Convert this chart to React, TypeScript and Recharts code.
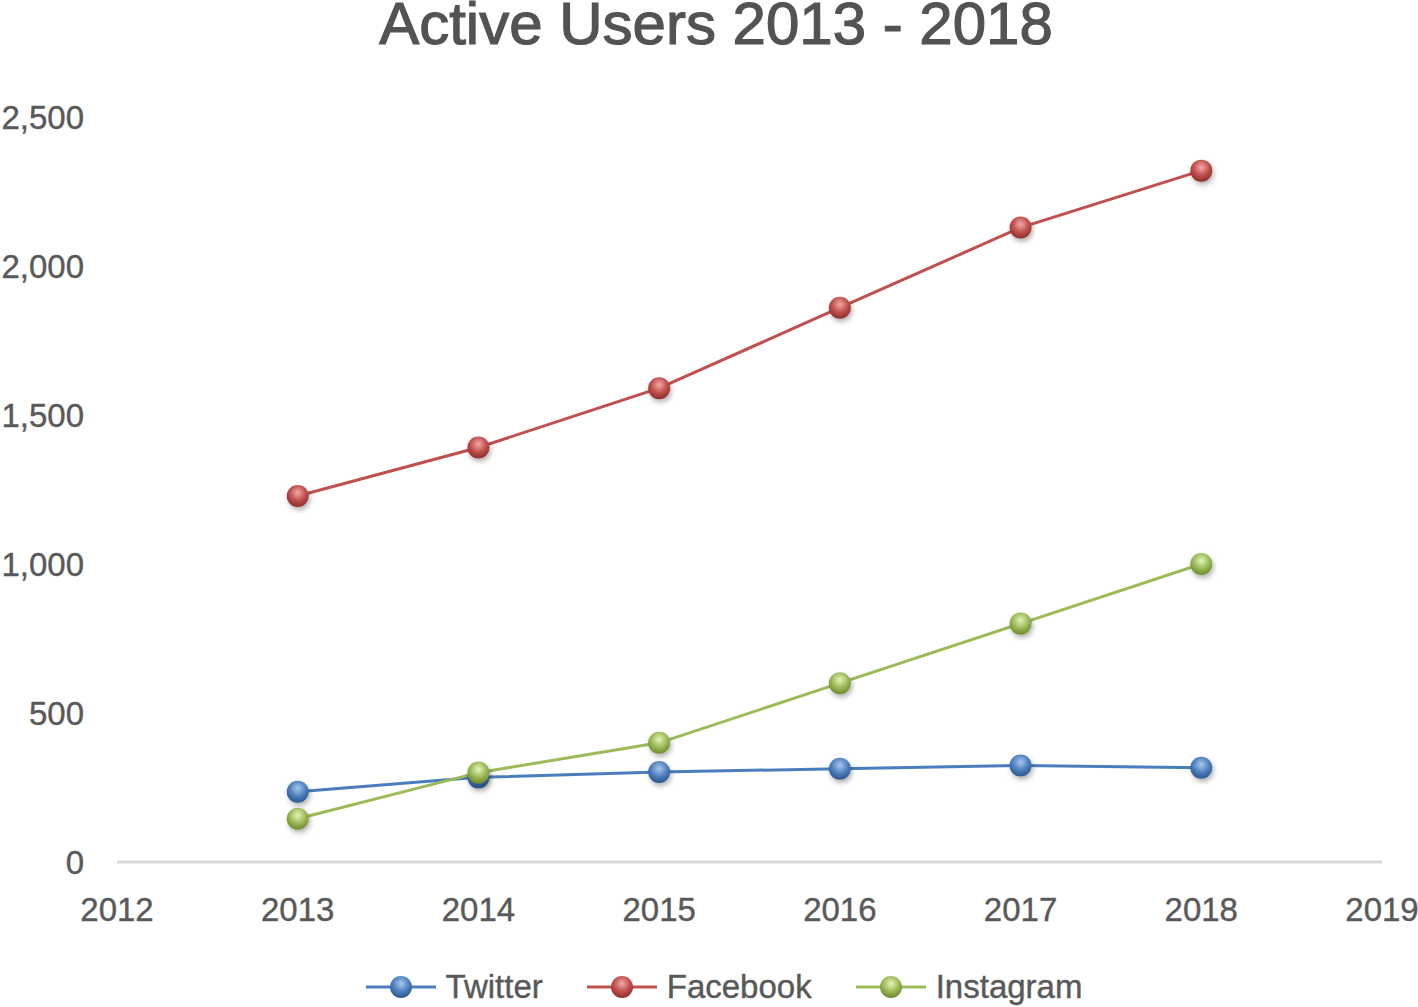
import React from 'react';
import { LineChart, Line, XAxis, YAxis, Legend } from 'recharts';

const years = [2013, 2014, 2015, 2016, 2017, 2018];
const twitter = [236, 284, 302, 313, 324, 316];
const facebook = [1228, 1391, 1590, 1860, 2129, 2320];
const instagram = [145, 300, 400, 600, 800, 1000];

const xTicks = [2012, 2013, 2014, 2015, 2016, 2017, 2018, 2019];
const yTicks = [0, 500, 1000, 1500, 2000, 2500];

const data = years.map((year, i) => ({
  year,
  Twitter: twitter[i],
  Facebook: facebook[i],
  Instagram: instagram[i]
}));

const series = [
  { key: 'Twitter', line: '#4a7dbd', light: '#a9c8f0', base: '#4f81bd', dark: '#2c5690' },
  { key: 'Facebook', line: '#c0504d', light: '#f2aaa8', base: '#c0504d', dark: '#8c2d2a' },
  { key: 'Instagram', line: '#9bbb59', light: '#e3f5b8', base: '#9bbb59', dark: '#6a8a2c' }
];

const font = '"Liberation Sans", Arial, sans-serif';
const textColor = '#595959';

const makeDot = (key: string, r: number) => (props: any) => {
  const { cx, cy, index } = props;
  if (cx == null || cy == null) return <g key={`${key}-${index}`} />;
  return (
    <circle
      key={`${key}-${index}`}
      cx={cx}
      cy={cy}
      r={r}
      fill={`url(#ball-${key})`}
      filter="url(#dotShadow)"
    />
  );
};

const LegendBall = ({ s }: { s: (typeof series)[number] }) => (
  <svg width={70} height={30} style={{ display: 'block' }}>
    <line x1={0} y1={15} x2={70} y2={15} stroke={s.line} strokeWidth={3} />
    <circle cx={35} cy={15} r={11} fill={`url(#ball-${s.key})`} />
  </svg>
);

const renderLegend = () => (
  <div
    style={{
      display: 'flex',
      justifyContent: 'center',
      alignItems: 'center',
      height: 40,
      fontFamily: font,
      fontSize: 33,
      color: textColor,
      paddingLeft: 66
    }}
  >
    {series.map((s, i) => (
      <div
        key={s.key}
        style={{ display: 'flex', alignItems: 'center', marginLeft: i === 0 ? 0 : 44 }}
      >
        <LegendBall s={s} />
        <span style={{ marginLeft: 10, lineHeight: '40px', WebkitTextStroke: '0.4px #595959' }}>
          {s.key}
        </span>
      </div>
    ))}
  </div>
);

const tickStyle = { fill: textColor, fontSize: 33, fontFamily: font, stroke: textColor, strokeWidth: 0.4 };

export default function App() {
  return (
    <div
      style={{
        position: 'absolute',
        left: 0,
        top: 0,
        width: 1418,
        height: 1007,
        background: '#fff',
        overflow: 'hidden'
      }}
    >
      <div
        style={{
          position: 'absolute',
          left: 0,
          top: 0,
          width: 1432,
          textAlign: 'center',
          fontFamily: font,
          fontSize: 60,
          lineHeight: '48px',
          color: '#535353',
          WebkitTextStroke: '1.2px #535353'
        }}
      >
        Active Users 2013 - 2018
      </div>
      <LineChart
        width={1418}
        height={1007}
        data={data}
        margin={{ top: 117, right: 36, left: 0, bottom: 0 }}
      >
        <defs>
          {series.map((s) => (
            <radialGradient key={s.key} id={`ball-${s.key}`} cx="50%" cy="35%" r="65%">
              <stop offset="0%" stopColor={s.light} />
              <stop offset="55%" stopColor={s.base} />
              <stop offset="100%" stopColor={s.dark} />
            </radialGradient>
          ))}
          <filter id="dotShadow" x="-50%" y="-50%" width="200%" height="200%">
            <feDropShadow dx="1.5" dy="3" stdDeviation="2.5" floodColor="#000" floodOpacity="0.3" />
          </filter>
        </defs>
        <XAxis
          dataKey="year"
          type="number"
          domain={[2012, 2019]}
          ticks={xTicks}
          interval={0}
          height={105}
          axisLine={{ stroke: '#d9d9d9', strokeWidth: 3 }}
          tickLine={false}
          tickSize={0}
          tickMargin={36}
          tick={tickStyle}
        />
        <YAxis
          type="number"
          domain={[0, 2500]}
          ticks={yTicks}
          interval={0}
          width={117}
          axisLine={false}
          tickLine={false}
          tickSize={0}
          tickMargin={33}
          tickFormatter={(v: number) => v.toLocaleString('en-US')}
          tick={tickStyle}
        />
        <Legend verticalAlign="bottom" content={renderLegend} />
        {series.map((s) => (
          <Line
            key={s.key}
            type="linear"
            dataKey={s.key}
            stroke={s.line}
            strokeWidth={3}
            dot={makeDot(s.key, 11)}
            activeDot={false}
            isAnimationActive={false}
          />
        ))}
      </LineChart>
    </div>
  );
}
